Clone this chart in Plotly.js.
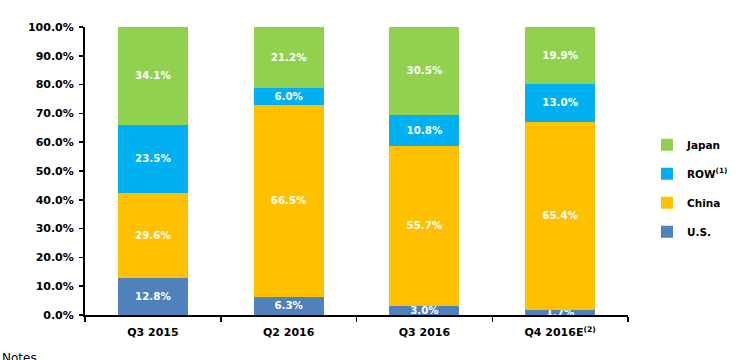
<!DOCTYPE html>
<html><head><meta charset="utf-8">
<script src="https://cdn.plot.ly/plotly-3.0.1.min.js"></script>
<style>body{margin:0;background:#fff}#c{width:745px;height:360px}</style>
</head><body><div id="c"></div>
<script>
const categories = ["Q3 2015", "Q2 2016", "Q3 2016", "Q4 2016E<sup>(2)</sup>"];
const us = [12.8, 6.3, 3.0, 1.7];
const china = [29.6, 66.5, 55.7, 65.4];
const row = [23.5, 6.0, 10.8, 13.0];
const japan = [34.1, 21.2, 30.5, 19.9];
const seriesNames = ["U.S.", "China", "ROW<sup>(1)</sup>", "Japan"];
const colors = ["#4F81BD", "#FFC000", "#00B0F0", "#92D050"];
const yTicks = [0,10,20,30,40,50,60,70,80,90,100];

const FONT = "DejaVu Sans, Verdana, sans-serif";
const data = [us, china, row, japan].map((vals, i) => ({
  type: "bar",
  x: categories,
  y: vals,
  name: seriesNames[i],
  legendgroup: "g" + i,
  legendrank: 4 - i,
  marker: {color: colors[i], line: {width: 0}},
  text: vals.map(v => v.toFixed(1) + "%"),
  textposition: "inside",
  insidetextanchor: "middle",
  textangle: 0,
  textfont: {family: FONT, size: 11, color: "#fff", weight: "bold"},
  hoverinfo: "skip",
  cliponaxis: false
}));

const layout = {
  width: 745, height: 360,
  margin: {l: 85, r: 115, t: 27, b: 45},
  barmode: "stack",
  bargap: 0.485,
  paper_bgcolor: "#fff", plot_bgcolor: "#fff",
  font: {family: FONT, size: 11, color: "#000", weight: "bold"},
  uniformtext: {minsize: 10, mode: "show"},
  xaxis: {
    showline: true, linecolor: "#000", linewidth: 2,
    ticks: "outside", tickson: "boundaries", ticklen: 5, tickcolor: "#000", tickwidth: 1.5,
    ticklabelstandoff: 6,
    showgrid: false, zeroline: false, fixedrange: true,
    tickfont: {family: FONT, size: 11, color: "#000", weight: "bold"}
  },
  yaxis: {
    range: [0, 100], tickvals: yTicks,
    ticktext: yTicks.map(v => v.toFixed(1) + "%"),
    showline: true, linecolor: "#000", linewidth: 2,
    ticks: "outside", ticklen: 4, tickcolor: "#000", tickwidth: 1.5,
    ticklabelstandoff: 3,
    showgrid: false, zeroline: false, fixedrange: true,
    tickfont: {family: FONT, size: 11, color: "#000", weight: "bold"}
  },
  legend: {
    x: 1.035, xanchor: "left", y: 0.44, yanchor: "middle",
    traceorder: "grouped", tracegroupgap: 10,
    font: {family: FONT, size: 10.5, color: "#000", weight: "bold"},
    itemwidth: 30, bgcolor: "rgba(0,0,0,0)"
  },
  annotations: [{
    text: "Notes", xref: "paper", yref: "paper", x: -0.156, y: -0.118,
    xanchor: "left", yanchor: "top", showarrow: false,
    font: {family: FONT, size: 12, color: "#000", weight: "normal"}
  }],
  showlegend: true
};
Plotly.newPlot("c", data, layout, {displayModeBar: false, staticPlot: true});
</script></body></html>
